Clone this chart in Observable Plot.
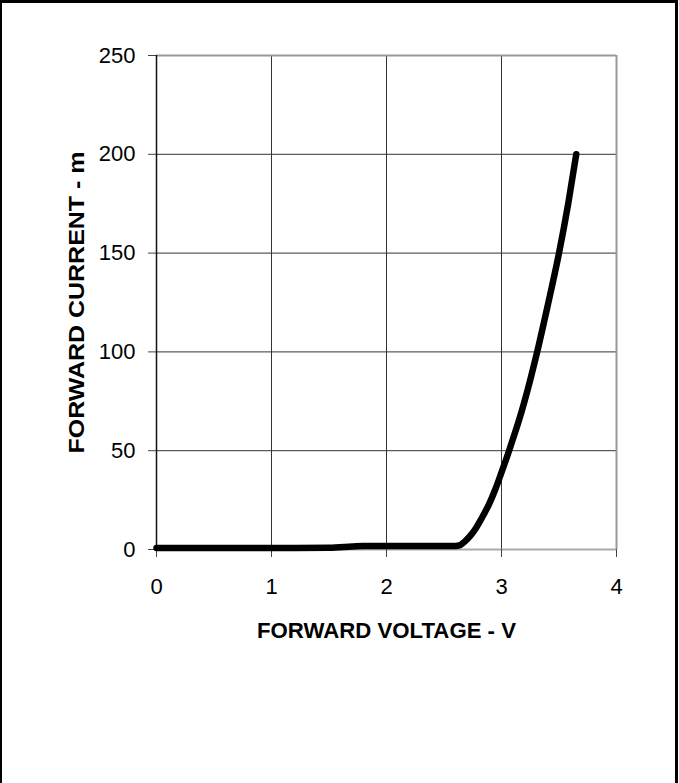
<!DOCTYPE html>
<html>
<head>
<meta charset="utf-8">
<script src="https://cdn.jsdelivr.net/npm/d3@7"></script>
<script src="https://cdn.jsdelivr.net/npm/@observablehq/plot@0.6"></script>
<style>
  html, body { margin: 0; padding: 0; background: white; overflow: hidden; }
  #wrap { position: relative; width: 679px; height: 783px; }
  #frame { position: absolute; left: 0; top: 0; width: 673px; height: 800px;
           border-left: 2px solid black; border-top: 3px solid black; border-right: 3px solid black;
           pointer-events: none; }
  #chart { position: absolute; left: 0; top: 0; }
</style>
</head>
<body>
<div id="wrap"><div id="chart"></div><div id="frame"></div></div>
<script>
// Forward voltage (V) and forward current (mA)
const voltage = [0, 0.5, 1.0, 1.5, 1.7, 1.8, 2.0, 2.4, 2.6, 2.64, 2.68, 2.73, 2.78, 2.82, 2.9, 2.95, 3.0, 3.06, 3.1, 3.15, 3.2, 3.31, 3.4, 3.5, 3.58, 3.65];
const current = [0.8, 0.8, 0.8, 0.9, 1.5, 1.8, 1.8, 1.8, 1.8, 2.2, 4, 7, 11, 15, 24, 31, 39, 49, 56, 65, 75, 100, 123, 150, 175, 200];
const xTicks = [0, 1, 2, 3, 4];
const yTicks = [0, 50, 100, 150, 200, 250];
const xLabel = "FORWARD VOLTAGE - V";
const yLabel = "FORWARD CURRENT - m";

const data = voltage.map((v, k) => ({v, i: current[k]}));

const chart = Plot.plot({
  width: 679,
  height: 783,
  marginLeft: 156,
  marginRight: 63,
  marginTop: 55,
  marginBottom: 234,
  style: {fontFamily: "'Liberation Sans', Arial, sans-serif", fontSize: "22px", background: "white", color: "black"},
  x: {domain: [0, 4]},
  y: {domain: [0, 250]},
  marks: [
    Plot.gridX(xTicks.slice(1, -1), {stroke: "#333", strokeOpacity: 1, strokeWidth: 1}),
    Plot.gridY(yTicks.slice(1, -1), {stroke: "#333", strokeOpacity: 1, strokeWidth: 1}),
    Plot.ruleY([250], {stroke: "#999", strokeWidth: 2}),
    Plot.ruleX([4], {stroke: "#999", strokeWidth: 2}),
    Plot.ruleY([0], {stroke: "#aaa", strokeWidth: 2}),
    Plot.axisX(xTicks, {tickSize: 8, tickPadding: 21, label: null, stroke: "#444", fontSize: 22, tickFormat: d3.format("d")}),
    Plot.axisY(yTicks, {tickSize: 8, tickPadding: 13, label: null, stroke: "#444", fontSize: 22, tickFormat: d3.format("d")}),
    Plot.ruleX([0], {stroke: "#111", strokeWidth: 1.5}),
    Plot.line(data, {x: "v", y: "i", stroke: "black", strokeWidth: 6.5,
      strokeLinecap: "round", strokeLinejoin: "round", curve: "monotone-x"}),
    Plot.text([xLabel], {frameAnchor: "bottom", dy: 81, lineAnchor: "middle", textAnchor: "middle",
      fontWeight: "bold", fontSize: 22, fill: "black", className: "xlab"}),
    Plot.text([yLabel], {frameAnchor: "left", dx: -80, rotate: -90, lineAnchor: "middle", textAnchor: "middle",
      fontWeight: "bold", fontSize: 22, fill: "black", className: "ylab"})
  ]
});
// stretch axis titles to the measured lengths of the reference
d3.select(chart).selectAll(".xlab text").attr("textLength", 259).attr("lengthAdjust", "spacingAndGlyphs");
d3.select(chart).selectAll(".ylab text").attr("textLength", 302).attr("lengthAdjust", "spacingAndGlyphs");
document.getElementById("chart").appendChild(chart);
</script>
</body>
</html>
